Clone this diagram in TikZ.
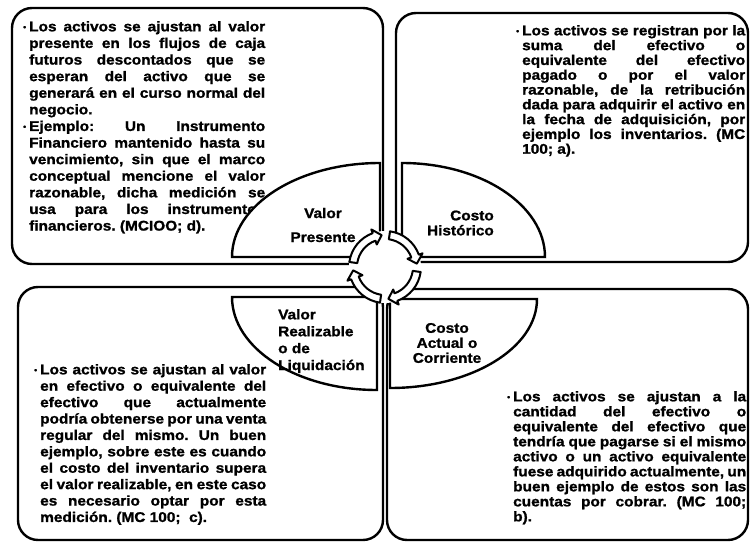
\documentclass[tikz,border=0pt]{standalone}
\usepackage{fontspec}
\setmainfont{Liberation Sans}[FakeStretch=1.10, BoldFeatures={FakeBold=1.2}]
\usetikzlibrary{calc}
\frenchspacing
% justified line, full width of the text block
\newlength{\ancho}
\newcommand{\renglon}[1]{\makebox[\ancho][s]{#1}}
\newcommand{\vineta}{\llap{\raisebox{1.5pt}{\fontsize{8}{8}\selectfont\textbullet}\hspace{3pt}}}

\begin{document}
\begin{tikzpicture}[x=1pt, y=-1pt,
    cuadro/.style={draw, line width=2.4pt, rounded corners=20pt, fill=white},
    sector/.style={draw, line width=2.4pt, fill=white},
    cuerpo/.style={inner sep=0pt, align=justify, anchor=north west, text width=#1,
      execute at begin node={\setlength{\ancho}{#1}\spaceskip=0pt\xspaceskip=0pt}},
    rotulo/.style={inner sep=0pt, font=\fontsize{14}{15}\selectfont\bfseries},
    flecha/.style={draw, line width=2pt, fill=white, line join=round}]
    \useasboundingbox (0,0) rectangle (750,543);
    % Outer boxes
    \draw[cuadro] (12,8) rectangle (383,264);
    \draw[cuadro] (396,13) rectangle (748,262);
    \draw[cuadro] (18,287) rectangle (383,540);
    \draw[cuadro] (387,289) rectangle (748,540);
    % Box texts
    \node[cuerpo=236pt, font=\fontsize{14}{16.6}\selectfont\bfseries] (vpTexto) at (29,21) {
      \renglon{\vineta Los activos se ajustan al valor}\\
      \renglon{presente en los flujos de caja}\\
      \renglon{futuros descontados que se}\\
      \renglon{esperan del activo que se}\\
      \renglon{generará en el curso normal del}\\
      negocio.\\
      \renglon{\vineta Ejemplo: Un Instrumento}\\
      \renglon{Financiero mantenido hasta su}\\
      \renglon{vencimiento, sin que el marco}\\
      \renglon{conceptual mencione el valor}\\
      \renglon{razonable, dicha medición se}\\
      \renglon{usa para los instrumentos}\\
      financieros. (MCIOO; d).
    };
    \node[cuerpo=223pt, font=\fontsize{14}{14.8}\selectfont\bfseries] (chTexto) at (522,25) {
      \renglon{\vineta Los activos se registran por la}\\
      \renglon{suma del efectivo o}\\
      \renglon{equivalente del efectivo}\\
      \renglon{pagado o por el valor}\\
      \renglon{razonable, de la retribución}\\
      \renglon{dada para adquirir el activo en}\\
      \renglon{la fecha de adquisición, por}\\
      \renglon{ejemplo los inventarios. (MC}\\
      100; a).
    };
    \node[cuerpo=226pt, font=\fontsize{14}{16.4}\selectfont\bfseries] (vrTexto) at (40,364) {
      \renglon{\vineta Los activos se ajustan al valor}\\
      \renglon{en efectivo o equivalente del}\\
      \renglon{efectivo que actualmente}\\
      \renglon{podría obtenerse por una venta}\\
      \renglon{regular del mismo. Un buen}\\
      \renglon{ejemplo, sobre este es cuando}\\
      \renglon{el costo del inventario supera}\\
      \renglon{el valor realizable, en este caso}\\
      \renglon{es necesario optar por esta}\\
      medición. (MC 100;\ \ c).
    };
    \node[cuerpo=233pt, font=\fontsize{14}{15}\selectfont\bfseries] (caTexto) at (513,391) {
      \renglon{\vineta Los activos se ajustan a la}\\
      \renglon{cantidad del efectivo o}\\
      \renglon{equivalente del efectivo que}\\
      \renglon{tendría que pagarse si el mismo}\\
      \renglon{activo o un activo equivalente}\\
      \renglon{fuese adquirido actualmente, un}\\
      \renglon{buen ejemplo de estos son las}\\
      \renglon{cuentas por cobrar. (MC 100;}\\
      b).
    };
    % Quarter sectors
    \draw[sector] (380,257) -- (380,163) arc[start angle=270, end angle=180, x radius=148, y radius=94] -- cycle;
    \draw[sector] (402,257) -- (402,163) arc[start angle=270, end angle=360, x radius=143, y radius=94] -- cycle;
    \draw[sector] (377,297) -- (232,297) arc[start angle=180, end angle=90, x radius=145, y radius=93] -- cycle;
    \draw[sector] (390,299) -- (537,299) arc[start angle=0, end angle=90, x radius=147, y radius=89] -- cycle;
    % Sector labels
    \node[rotulo, align=center] (vp) at (323,225) {Valor\\[9pt]Presente};
    \node[rotulo, align=right, anchor=east] (ch) at (494,223) {Costo\\Histórico};
    \node[rotulo, align=left, anchor=north west, font=\fontsize{14}{16.9}\selectfont\bfseries] (vr) at (278,309) {Valor\\Realizable\\o de\\Liquidación};
    \node[rotulo, align=center] (ca) at (447,343) {Costo\\Actual o\\Corriente};
    % Cycle in the middle
    \coordinate (ciclo) at (385,267);
    \begin{scope}[shift={(ciclo)}]
      \fill[white] (0,0) circle[radius=36];
      \foreach \a in {0,90,180,270} {
        \draw[flecha] (\a+8:36) arc[start angle=\a+8, end angle=\a+70, radius=36]
          -- (\a+70:40) -- (\a+84:32) -- (\a+70:24) -- (\a+70:28)
          arc[start angle=\a+70, end angle=\a+8, radius=28] -- cycle;
      }
    \end{scope}
\end{tikzpicture}
\end{document}
